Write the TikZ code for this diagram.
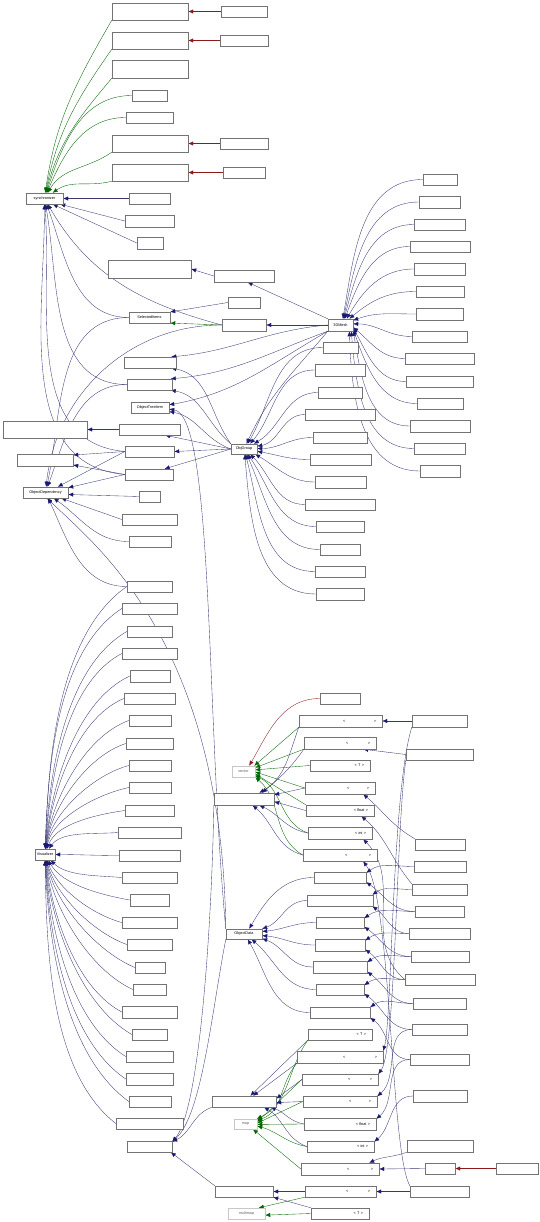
\documentclass[tikz,border=0pt]{standalone}
\usepackage{fontspec}
\setmainfont{Liberation Sans}
\usetikzlibrary{arrows.meta}
\pgfdeclarelayer{background}
\pgfsetlayers{background,main}
\definecolor{edgeblue}{RGB}{25,25,112}
\definecolor{edgegreen}{RGB}{0,100,0}
\definecolor{edgered}{RGB}{139,26,26}
\newcommand{\classbox}[7][box]{%
  \node[#1, minimum width={(#5-#3)*1pt}, minimum height={(#6-#4)*1pt}]
    (#2) at ({(#3+#5)/2},{(#4+#6)/2}) {#7};}
\newcommand{\tplbox}[6]{%
  \node[box, minimum width={(#4-#2)*1pt}, minimum height={(#5-#3)*1pt},
    text width={(#4-#2-12)*1pt}, align=right]
    (#1) at ({(#2+#4)/2},{(#3+#5)/2}) {#6};}
\begin{document}
\begin{tikzpicture}[x=1pt, y=-1pt,
  box/.style={draw=black!55, line width=0.4pt, fill=white, inner sep=0pt,
    font=\fontsize{3.8}{4.2}\selectfont},
  gbox/.style={box, draw=black!22, text=black!60},
  dep/.style={draw=edgeblue!70!gray, line width=0.35pt,
    -{Latex[length=5pt,width=4.2pt,color=edgeblue]}},
  inh/.style={draw=edgegreen, line width=0.35pt,
    -{Latex[length=5pt,width=4.2pt,color=edgegreen]}},
  tmpl/.style={draw=edgered, line width=0.35pt,
    -{Latex[length=5pt,width=4.2pt,color=edgered]}}]
\useasboundingbox (0,0) rectangle (540,1222);

% upper part
\foreach \n/\xa/\ya/\xb/\yb in {A1/112/3/188/20, A2/112/32/188/49, A3/112/60/188/78,
  A4/132/90/167/101, A5/126/112/173/123, A6/112/135/188/152, A7/112/164/188/181,
  A1s/221/6/267/17, A2s/220/35/268/46, A6s/220/138/268/149, A7s/223/167/265/178,
  B1/129/193/170/204, B2/125/215/174/227, B3/137/237/163/249,
  C1/108/260/191/278, C1s/214/270/274/282, D1/228/297/260/308, D2/222/319/266/331,
  E1/124/357/176/368, E2/127/379/172/390, E3/119/424/180/435, E4/125/446/174/457,
  E5/125/469/173/480, H1/3/421/87/438, H2/17/454/73/466,
  F1/139/491/160/502, F2/122/514/177/525, F3/129/536/171/547}
  {\classbox{\n}{\xa}{\ya}{\xb}{\yb}{}}
\classbox{sync}{26}{193}{63}{204}{synchronizer}
\classbox{sel}{129}{312}{170}{323}{SelectedItems}
\classbox{mesh}{328}{319}{353}{331}{3DMesh}
\classbox{oti}{131}{402}{169}{413}{ObjectTreeItem}
\classbox{grp}{231}{444}{257}{454}{ObjGroup}
\classbox{odep}{23}{487}{68}{498}{ObjectDependency}

% 3DMesh and ObjGroup members
\foreach \n/\xa/\ya/\xb/\yb in {M1/423/174/457/185, M2/419/196/460/208,
  M3/414/219/465/230, M4/410/241/470/252, M5/414/263/465/275, M6/416/286/464/297,
  M7/416/308/463/320, M8/412/331/467/342, M9/405/353/474/364, M10/406/376/473/387,
  M11/417/398/463/409, M12/410/420/470/432, M13/414/443/465/454, M14/420/465/460/477,
  G1/323/342/358/353, G2/315/364/365/376, G3/318/387/362/398, G4/305/409/375/420,
  G5/313/432/367/443, G6/310/454/371/465, G7/315/476/366/488, G8/305/499/375/510,
  G9/316/521/364/532, G10/320/544/360/555, G11/315/566/365/577, G12/316/588/364/600}
  {\classbox{\n}{\xa}{\ya}{\xb}{\yb}{}}

% Visualizer
\foreach \n/\xa/\ya/\xb/\yb in {V1/127/581/172/592, V2/122/603/177/614,
  V3/127/626/172/637, V4/122/648/177/659, V5/130/670/170/682, V6/124/693/175/704,
  V7/129/715/171/726, V8/126/738/173/749, V9/129/760/171/771, V10/129/782/171/793,
  V11/125/805/174/816, V12/118/827/181/838, V13/119/850/180/861, V14/122/872/177/883,
  V15/130/894/169/906, V16/122/917/177/928, V17/127/939/172/950, V18/135/962/165/973,
  V19/133/984/166/995, V20/122/1006/177/1018, V21/132/1029/167/1040,
  V22/126/1051/173/1062, V23/126/1073/173/1085, V24/129/1096/171/1107,
  V25/116/1118/183/1129, W1/127/1141/172/1152}
  {\classbox{\n}{\xa}{\ya}{\xb}{\yb}{}}
\classbox{vis}{35}{849}{55}{860}{Visualizer}

% lower part
\foreach \n/\xa/\ya/\xb/\yb in {P0/320/693/360/704, P1s/412/715/467/727,
  P2s/406/749/473/760, VC/214/793/274/805, Q1/415/839/465/850, Q2/414/861/466/872,
  R1/314/872/366/883, R2/307/895/373/906, R3/316/917/364/928, R4/315/939/365/951,
  R5/313/961/367/973, R6/316/984/364/995, R7/310/1007/370/1018,
  S2/412/884/467/895, S3/415/906/464/917, S4/409/928/470/939, S5/411/951/469/962,
  S6/405/974/475/985, S7/413/998/466/1009, S8/412/1024/467/1035,
  U2/410/1054/469/1065, U3/413/1090/467/1102, U4/407/1140/473/1152,
  U5/425/1163/455/1174, U6/496/1163/538/1174, MC/212/1096/276/1107,
  MM/215/1186/273/1197, X2s/410/1186/469/1197}
  {\classbox{\n}{\xa}{\ya}{\xb}{\yb}{}}
\foreach \n/\xa/\ya/\xb/\yb/\t in {P1/299/715/382/727/{<\hspace{28.5pt}>},
  P2/304/737/376/749/{<\hspace{19.5pt}>}, P3/310/760/370/771/{< T >},
  P4/305/782/375/794/{<\hspace{17.5pt}>}, P5/306/805/374/816/{< float >},
  P6/308/827/372/839/{< int >}, P7/303/849/377/861/{<\hspace{21.5pt}>},
  T1/308/1029/372/1040/{< T >}, T2/297/1051/383/1063/{<\hspace{29.5pt}>},
  T3/302/1074/378/1085/{<\hspace{19.5pt}>}, T4/303/1096/377/1107/{<\hspace{17.5pt}>},
  T5/304/1118/376/1130/{< float >}, T6/307/1141/374/1152/{< int >},
  T7/301/1163/379/1175/{<\hspace{21.5pt}>}, X2/305/1186/376/1197/{<\hspace{19.5pt}>},
  X3/311/1208/369/1219/{< T >}}
  {\tplbox{\n}{\xa}{\ya}{\xb}{\yb}{\t}}
\classbox{od}{226}{929}{262}{939}{ObjectData}
\classbox[gbox]{vec}{232}{766}{255}{777}{vector}
\classbox[gbox]{map}{234}{1119}{257}{1129}{map}
\classbox[gbox]{mmap}{228}{1208}{265}{1219}{multimap}

\begin{pgfonlayer}{background}
% synchronizer
\foreach \s/\t in {A1s/A1, A2s/A2, A6s/A6, A7s/A7}
  \draw[tmpl] (\s.west) -- (\t.east);
\foreach \s/\o/\a in {A1/240/82, A2/235/79, A3/230/76, A6/215/60, A7/195/35}
  \draw[inh] (\s.south west) to[out=\o,in=\a] (sync.\a);
\foreach \s/\a in {A4/72, A5/67}
  \draw[inh] (\s.west) to[out=180,in=\a] (sync.\a);
\draw[dep] (B1.west) -- (sync.east);
\draw[dep] (B2.west) -- (sync.-20);
\draw[dep] (B3.west) -- (sync.-35);
\foreach \s/\o/\a in {sel/180/-70, D2/165/-60, E2/180/-80, E4/175/-86, E5/175/-90}
  \draw[dep] (\s.west) to[out=\o,in=\a] (sync.\a);
\draw[dep] (C1s.west) -- (C1.east);
\draw[dep] (D1.west) -- (sel.15);
\draw[inh] (D2.west) -- (sel.-15);

% ObjectDependency
\foreach \s/\a in {sel/78, D2/84, E2/70}
  \draw[dep] (\s.west) to[out=180,in=\a] (odep.\a);
\draw[dep] (E3.west) -- (H1.east);
\draw[dep] (E4.west) -- (H2.10);
\draw[dep] (E5.west) -- (H2.-10);
\draw[dep] (E4.west) -- (odep.25);
\draw[dep] (E5.west) -- (odep.12);
\draw[dep] (F1.west) -- (odep.-5);
\draw[dep] (F2.west) -- (odep.-20);
\draw[dep] (F3.west) to[out=180,in=-35] (odep.-35);
\draw[dep] (V1.west) to[out=180,in=-65] (odep.-65);
\draw[dep] (od.north west) .. controls (222,640) and (95,545) .. (odep.-75);
\draw[dep] (od.north west) .. controls (206,720) and (214,415) .. (oti.-5);

% 3DMesh
\foreach \m/\a/\i in {M1/70/80, M2/65/78, M3/60/75, M4/55/70, M5/45/60, M6/35/40,
  M7/20/20, M8/5/0, M9/-10/-40, M10/-15/-60, M11/-20/-70, M12/-25/-80,
  M13/-30/-85, M14/-35/-88}
  \draw[dep] (\m.west) to[out=180,in=\i] (mesh.\a);
\draw[dep] (mesh.north west) -- (C1s.-60);
\draw[dep] (mesh.west) -- (D2.east);
\draw[dep] (mesh.west) to[out=185,in=5] (E1.15);
\draw[dep] (mesh.south west) to[out=200,in=5] (E2.15);
\draw[dep] (mesh.south west) to[out=210,in=10] (oti.8);
\draw[dep] (mesh.south west) to[out=230,in=65] (grp.65);

% ObjGroup
\draw[dep] (grp.north west) to[out=125,in=-10] (E1.-15);
\draw[dep] (grp.north west) to[out=140,in=-10] (E2.-15);
\draw[dep] (grp.west) to[out=160,in=-10] (oti.-12);
\draw[dep] (grp.west) -- (E3.-20);
\draw[dep] (grp.west) -- (E4.east);
\draw[dep] (grp.west) -- (E5.20);
\foreach \g/\a/\i in {G1/55/60, G2/40/50, G3/28/30, G4/12/10, G5/2/0, G6/-10/-10,
  G7/-25/-30, G8/-40/-45, G9/-55/-55, G10/-65/-65, G11/-75/-75, G12/-82/-85}
  \draw[dep] (\g.west) to[out=180,in=\i] (grp.\a);

% Visualizer
\foreach \v/\o/\a in {V1/215/88, V2/213/88, V3/210/87, V4/208/86, V5/205/85,
  V6/203/84, V7/200/83, V8/198/82, V9/195/80, V10/192/77, V11/188/70, V12/185/55,
  V13/180/0, V14/175/-45, V15/170/-60, V16/165/-70, V17/160/-75, V18/157/-78,
  V19/155/-81, V20/152/-83, V21/150/-85, V22/148/-86, V23/146/-87, V24/144/-88,
  V25/142/-89}
  \draw[dep] (\v.west) to[out=\o,in=\a,looseness=0.8] (vis.\a);
\draw[dep] (VC.south west) .. controls (212,920) and (200,1110) .. (W1.12);
\draw[dep] (od.south west) .. controls (212,1010) and (202,1115) .. (W1.12);
\draw[dep] (MC.south west) to[out=200,in=25] (W1.12);
\draw[dep] (MM.north west) -- (W1.-15);

% vector
\draw[tmpl] (P0.west) to[out=180,in=60] (vec.45);
\draw[inh] (P1.south west) -- (vec.28);
\draw[inh] (P2.south west) -- (vec.18);
\draw[inh] (P3.west) -- (vec.8);
\draw[inh] (P4.west) -- (vec.-2);
\draw[inh] (P5.north west) -- (vec.-12);
\draw[inh] (P6.west) to[out=160,in=-25] (vec.-20);
\draw[inh] (P7.west) to[out=150,in=-40] (vec.-26);
\draw[dep] (P1.south west) to[out=250,in=30] (VC.22);
\draw[dep] (P2.south west) to[out=235,in=40] (VC.19);
\draw[dep] (P4.west) -- (VC.8);
\draw[dep] (P5.west) -- (VC.-5);
\draw[dep] (P6.west) to[out=170,in=-25] (VC.-22);
\draw[dep] (P7.west) to[out=165,in=-40] (VC.-36);
\draw[dep] (P1s.west) -- (P1.east);
\draw[dep] (P2s.west) -- (P2.-15);

% ObjectData
\foreach \r/\a/\i in {R1/45/60, R2/16/20, R3/8/5, R4/-5/-5, R5/-14/-20,
  R6/-35/-40, R7/-55/-60}
  \draw[dep] (\r.west) to[out=180,in=\i] (od.\a);
\foreach \s/\r in {Q2/R1, S2/R2, S3/R3, S4/R4, S5/R5, S6/R6, S7/R7}
  \draw[dep] (\s.west) to[out=180,in=35] (\r.10);
\foreach \s/\r in {S3/R1, S4/R2, S5/R3, S6/R4, S7/R5, S8/R6, U2/R7}
  \draw[dep] (\s.west) to[out=180,in=-35] (\r.-10);
\draw[dep] (Q1.north west) to[out=150,in=-40] (P4.-15);
\draw[dep] (S2.north west) to[out=130,in=-40] (P5.-15);
\draw[dep] (S6.west) to[out=140,in=-45] (P6.-15);
\draw[dep] (X2s.north west) .. controls (390,1150) and (392,900) .. (P7.-15);
\draw[dep] (P1s.south west) .. controls (392,790) and (392,1020) .. (T2.8);
\draw[dep] (P2s.south west) .. controls (396,830) and (396,1050) .. (T3.8);
\draw[dep] (S8.west) to[out=180,in=40] (T4.8);
\draw[dep] (U2.west) to[out=180,in=40] (T5.8);
\draw[dep] (U3.west) to[out=180,in=40] (T6.8);
\draw[dep] (U4.south west) to[out=200,in=25] (T7.12);
\draw[dep] (U5.west) -- (T7.east);
\draw[tmpl] (U6.west) -- (U5.east);

% map and multimap
\draw[inh] (T1.south west) to[out=235,in=25] (map.25);
\draw[inh] (T2.south west) to[out=230,in=18] (map.18);
\draw[inh] (T3.west) -- (map.10);
\draw[inh] (T4.west) -- (map.4);
\draw[inh] (T5.west) -- (map.-2);
\draw[inh] (T6.west) to[out=170,in=-15] (map.-10);
\draw[inh] (T7.west) -- (map.-35);
\draw[dep] (T1.south west) -- (MC.42);
\draw[dep] (T2.south west) -- (MC.32);
\draw[dep] (T3.west) -- (MC.5);
\draw[dep] (T4.west) -- (MC.-2);
\draw[dep] (T5.west) to[out=170,in=-20] (MC.-12);
\draw[dep] (T6.west) to[out=160,in=-30] (MC.-16);
\draw[dep] (X2s.west) -- (X2.east);
\draw[dep] (X2.west) -- (MM.east);
\draw[dep] (X3.north west) -- (MM.-11);
\draw[inh] (X2.south west) -- (mmap.25);
\draw[inh] (X3.west) -- (mmap.-5);
\end{pgfonlayer}
\end{tikzpicture}
\end{document}
